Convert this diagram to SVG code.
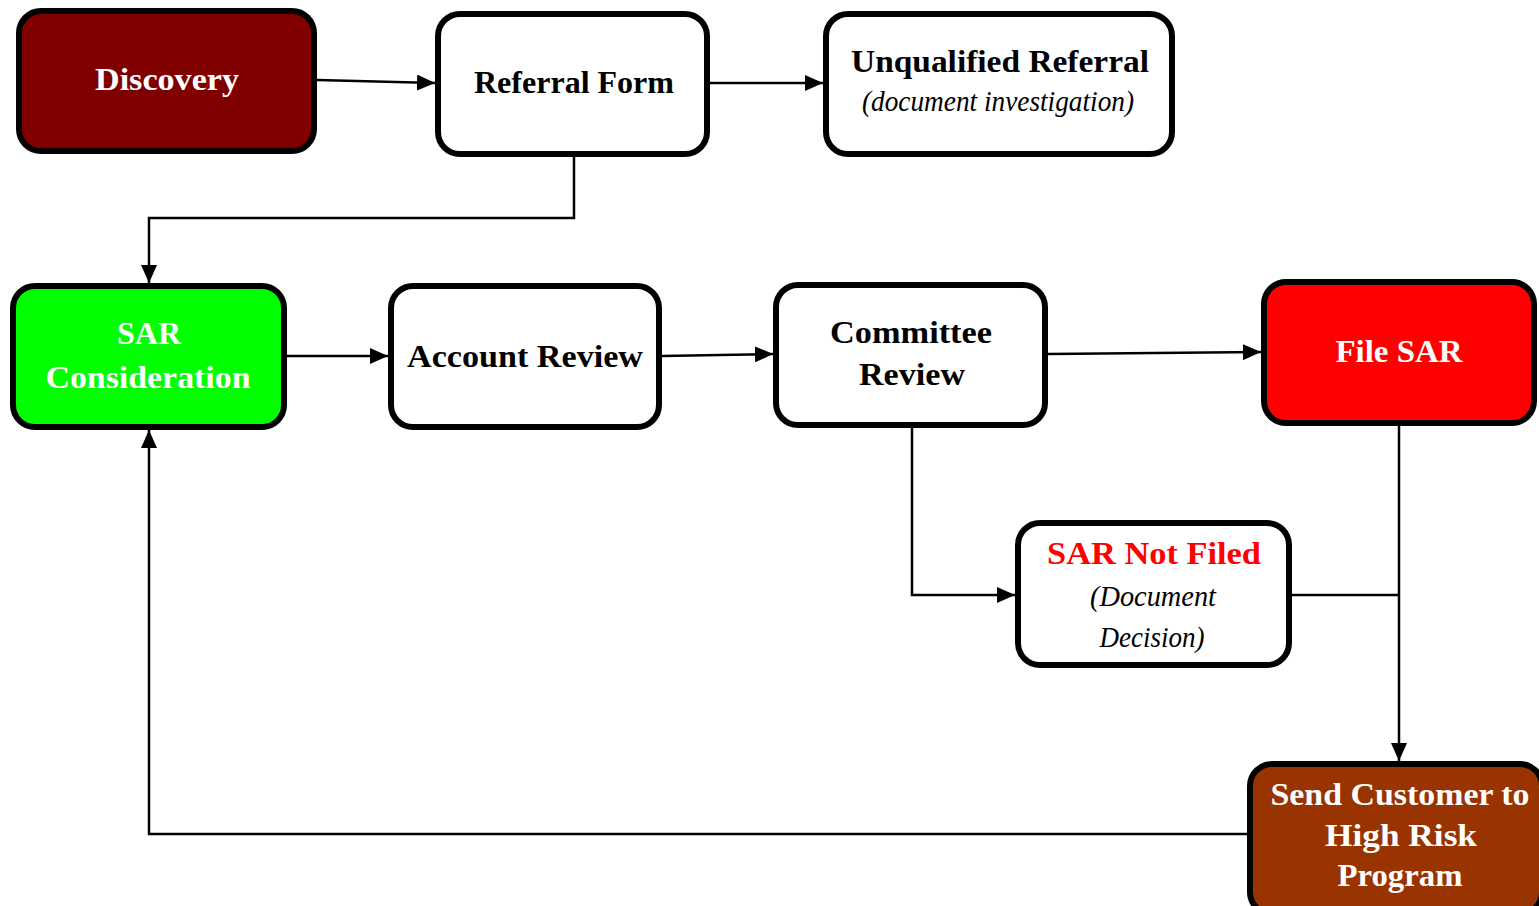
<svg xmlns="http://www.w3.org/2000/svg" width="1539" height="906" viewBox="0 0 1539 906">
  <defs>
    <marker id="arrow" markerUnits="userSpaceOnUse" markerWidth="18" markerHeight="16" refX="18" refY="8" orient="auto">
      <path d="M0,0 L18,8 L0,16 z" fill="#000"/>
    </marker>
    <style>
      .box { stroke: #000; stroke-width: 6; }
      .plain { fill: #fff; }
      .t { font-family: "Liberation Serif", "Times New Roman", serif; font-size: 32px; font-weight: bold; text-anchor: middle; }
      .it { font-family: "Liberation Serif", "Times New Roman", serif; font-size: 30px; font-style: italic; text-anchor: middle; fill: #000; }
      .dark { fill: #000; }
      .light { fill: #fff; }
      .warn { fill: #ff0000; }
      .link { fill: none; stroke: #000; stroke-width: 2.5; }
    </style>
  </defs>
  <rect width="1539" height="906" fill="#fff"/>

  <g id="connectors">
    <path class="link" d="M317,80 L435,83" marker-end="url(#arrow)"/>
    <path class="link" d="M710,83 L823,83" marker-end="url(#arrow)"/>
    <path class="link" d="M574,157 L574,218 L149,218 L149,283" marker-end="url(#arrow)"/>
    <path class="link" d="M287,356 L388,356" marker-end="url(#arrow)"/>
    <path class="link" d="M662,356 L773,354" marker-end="url(#arrow)"/>
    <path class="link" d="M1048,354 L1261,352" marker-end="url(#arrow)"/>
    <path class="link" d="M912,428 L912,595 L1015,595" marker-end="url(#arrow)"/>
    <path class="link" d="M1292,595 L1399,595"/>
    <path class="link" d="M1399,426 L1399,761" marker-end="url(#arrow)"/>
    <path class="link" d="M1247,834 L149,834 L149,430" marker-end="url(#arrow)"/>
  </g>

  <g id="discovery">
    <rect class="box" x="19" y="11" width="295" height="140" rx="22" fill="#800000"/>
    <text class="t light" x="167" y="90" textLength="144" lengthAdjust="spacingAndGlyphs">Discovery</text>
  </g>

  <g id="referral-form">
    <rect class="box plain" x="438" y="14" width="269" height="140" rx="22"/>
    <text class="t dark" x="574" y="93" textLength="200" lengthAdjust="spacingAndGlyphs">Referral Form</text>
  </g>

  <g id="unqualified-referral">
    <rect class="box plain" x="826" y="14" width="346" height="140" rx="22"/>
    <text class="t dark" x="1000" y="72" textLength="298" lengthAdjust="spacingAndGlyphs">Unqualified Referral</text>
    <text class="it" x="998" y="111" textLength="272" lengthAdjust="spacingAndGlyphs">(document investigation)</text>
  </g>

  <g id="sar-consideration">
    <rect class="box" x="13" y="286" width="271" height="141" rx="22" fill="#00ff00"/>
    <text class="t light" x="149" y="344" textLength="64" lengthAdjust="spacingAndGlyphs">SAR</text>
    <text class="t light" x="148" y="388" textLength="205" lengthAdjust="spacingAndGlyphs">Consideration</text>
  </g>

  <g id="account-review">
    <rect class="box plain" x="391" y="286" width="268" height="141" rx="22"/>
    <text class="t dark" x="525" y="367" textLength="236" lengthAdjust="spacingAndGlyphs">Account Review</text>
  </g>

  <g id="committee-review">
    <rect class="box plain" x="776" y="285" width="269" height="140" rx="22"/>
    <text class="t dark" x="911" y="343" textLength="162" lengthAdjust="spacingAndGlyphs">Committee</text>
    <text class="t dark" x="912" y="385" textLength="106" lengthAdjust="spacingAndGlyphs">Review</text>
  </g>

  <g id="file-sar">
    <rect class="box" x="1264" y="282" width="270" height="141" rx="22" fill="#ff0000"/>
    <text class="t light" x="1399" y="362" textLength="127" lengthAdjust="spacingAndGlyphs">File SAR</text>
  </g>

  <g id="sar-not-filed">
    <rect class="box plain" x="1018" y="523" width="271" height="142" rx="22"/>
    <text class="t warn" x="1154" y="564" textLength="214" lengthAdjust="spacingAndGlyphs">SAR Not Filed</text>
    <text class="it" x="1153" y="606" textLength="126" lengthAdjust="spacingAndGlyphs">(Document</text>
    <text class="it" x="1152" y="647" textLength="105" lengthAdjust="spacingAndGlyphs">Decision)</text>
  </g>

  <g id="high-risk-program">
    <rect class="box" x="1250" y="764" width="292" height="150" rx="22" fill="#993300"/>
    <text class="t light" x="1400" y="805" textLength="259" lengthAdjust="spacingAndGlyphs">Send Customer to</text>
    <text class="t light" x="1401" y="846" textLength="152" lengthAdjust="spacingAndGlyphs">High Risk</text>
    <text class="t light" x="1400" y="886" textLength="125" lengthAdjust="spacingAndGlyphs">Program</text>
  </g>
</svg>
